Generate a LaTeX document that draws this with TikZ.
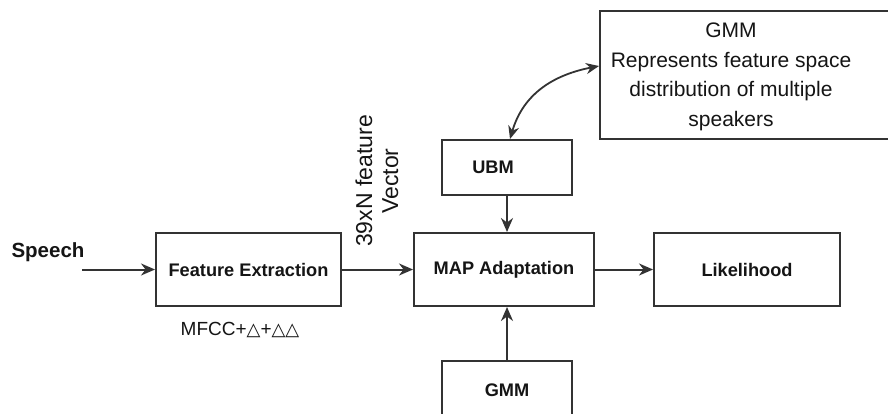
\documentclass[tikz,border=0pt]{standalone}
\usepackage{fontspec}
\setmainfont{Liberation Sans}
\newfontfamily\symfont{DejaVu Sans}
\usetikzlibrary{arrows.meta}
\definecolor{linegray}{HTML}{333333}
\definecolor{inkblack}{HTML}{151515}
\begin{document}
\begin{tikzpicture}[x=1pt,y=-1pt,
  block/.style={draw=linegray, line width=2pt, rectangle, inner sep=0pt,
    text=inkblack, font=\fontsize{18.2}{21}\selectfont\bfseries},
  flow/.style={draw=linegray, line width=2pt,
    -{Stealth[length=14pt,width=12pt]}},
  both/.style={draw=linegray, line width=1.8pt,
    {Stealth[length=13pt,width=11pt]}-{Stealth[length=13pt,width=11pt]}},
  plain/.style={text=inkblack, inner sep=0pt}]
\useasboundingbox (0,0) rectangle (888,414);
\clip (0,0) rectangle (888,414);
\fill[white] (0,0) rectangle (888,414);

% processing chain
\node[block, minimum width=185pt, minimum height=73pt] (fe) at (248.5,269.5) {Feature Extraction};
\node[block, minimum width=180pt, minimum height=73pt] (map) at (504,269.5) {MAP Adaptation};
\node[block, minimum width=186pt, minimum height=73pt] (lik) at (747,269.5) {Likelihood};
\node[block, minimum width=130pt, minimum height=55pt] (ubm) at (507,167.5) {UBM\hspace*{28pt}};
\node[block, minimum width=130pt, minimum height=58pt] (gmmb) at (507,390) {GMM};

% speaker model description
\node[draw=linegray, line width=2pt, rectangle, minimum width=300pt, minimum height=128pt, inner sep=0pt] (gmmtop) at (750,75) {};
\node[plain, align=center, font=\fontsize{21}{29.5}\selectfont] (gmmtxt) at (731,77)
  {GMM\\Represents feature space\\distribution of multiple\\speakers};

% labels
\node[plain, font=\fontsize{20.5}{24}\selectfont\bfseries] (speech) at (48,252) {Speech};
\node[plain, font=\fontsize{19}{22}\selectfont] (mfcc) at (240,330)
  {MFCC+{\symfont\fontsize{18}{20}\selectfont △}+{\symfont\fontsize{18}{20}\selectfont △△}};
\node[plain, rotate=90, align=center, font=\fontsize{23}{26}\selectfont] (vec) at (377,181)
  {39xN feature\\Vector};

% connectors
\coordinate (sin) at (82,269.5);
\coordinate (gin) at ([yshift=9pt]gmmtop.west);
\draw[flow] (sin) -- (fe.west);
\draw[flow] (fe.east) -- (map.west);
\draw[flow] (map.east) -- (lik.west);
\draw[flow] (ubm.south) -- (ubm.south |- map.north);
\draw[flow] (gmmb.north) -- (gmmb.north |- map.south);
\draw[both] ([xshift=3pt]ubm.north) .. controls (522,98) and (548,76) .. (gin);
\end{tikzpicture}
\end{document}
